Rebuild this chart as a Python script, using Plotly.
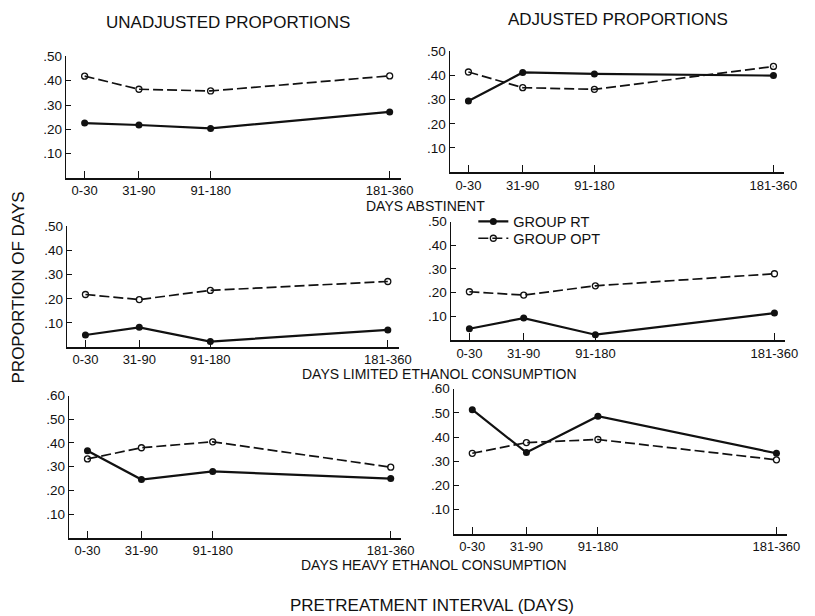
import plotly.graph_objects as go

# ---- data ----
interval_labels = ["0-30", "31-90", "91-180", "181-360"]
interval_ticks = [0.0, 0.178, 0.413, 1.0]   # axis scale: category positions along the time axis

unadj_abstinent_rt = [0.226, 0.218, 0.204, 0.272]
unadj_abstinent_opt = [0.419, 0.365, 0.358, 0.420]
adj_abstinent_rt = [0.295, 0.413, 0.407, 0.400]
adj_abstinent_opt = [0.415, 0.350, 0.343, 0.438]

unadj_limited_rt = [0.050, 0.082, 0.023, 0.071]
unadj_limited_opt = [0.218, 0.197, 0.235, 0.272]
adj_limited_rt = [0.048, 0.093, 0.023, 0.114]
adj_limited_opt = [0.204, 0.190, 0.229, 0.280]

unadj_heavy_rt = [0.367, 0.246, 0.280, 0.250]
unadj_heavy_opt = [0.333, 0.380, 0.405, 0.298]
adj_heavy_rt = [0.513, 0.336, 0.486, 0.333]
adj_heavy_opt = [0.333, 0.377, 0.390, 0.306]

ytick_vals_50 = [0.1, 0.2, 0.3, 0.4, 0.5]
ytick_text_50 = [".10", ".20", ".30", ".40", ".50"]
ytick_vals_60 = [0.1, 0.2, 0.3, 0.4, 0.5, 0.6]
ytick_text_60 = [".10", ".20", ".30", ".40", ".50", ".60"]

W, H = 815, 616
INK = "#111111"
FONT = "Liberation Sans, Arial, sans-serif"

def px(x):
    return x / W

def py(y):
    return 1 - y / H

panels = [
    # (rt, opt, x-left px, x-right px, y-bottom px, y-top px, ymax)
    (unadj_abstinent_rt, unadj_abstinent_opt, 67, 407, 173, 50, 0.5),
    (adj_abstinent_rt, adj_abstinent_opt, 457, 797, 167, 45, 0.5),
    (unadj_limited_rt, unadj_limited_opt, 68, 405, 344, 222, 0.5),
    (adj_limited_rt, adj_limited_opt, 458, 798, 337, 217, 0.5),
    (unadj_heavy_rt, unadj_heavy_opt, 70, 408, 537, 393, 0.6),
    (adj_heavy_rt, adj_heavy_opt, 461, 800, 533, 386, 0.6),
]

fig = go.Figure()
layout = {}
for i, (rt, opt, xl, xr, yb, yt, ymax) in enumerate(panels):
    n = "" if i == 0 else str(i + 1)
    xa, ya = "x" + n, "y" + n
    fig.add_trace(go.Scatter(
        x=interval_ticks, y=opt, xaxis=xa, yaxis=ya, mode="lines+markers",
        name="GROUP OPT", showlegend=(i == 0), legend="legend2",
        line=dict(color=INK, width=1.7, dash="10px,4px"),
        marker=dict(symbol="circle-open", size=6, color=INK, line=dict(width=1.3)),
    ))
    fig.add_trace(go.Scatter(
        x=interval_ticks, y=rt, xaxis=xa, yaxis=ya, mode="lines+markers",
        name="GROUP RT", showlegend=(i == 0), legend="legend",
        line=dict(color=INK, width=2.2),
        marker=dict(symbol="circle", size=7, color=INK),
    ))
    yv = ytick_vals_60 if ymax > 0.55 else ytick_vals_50
    yt_ = ytick_text_60 if ymax > 0.55 else ytick_text_50
    layout["xaxis" + n] = dict(
        domain=[px(xl), px(xr)], anchor=ya, range=[-19 / 310, 1 + 11 / 310],
        tickvals=interval_ticks, ticktext=interval_labels,
        ticks="inside", ticklen=7, tickwidth=1.3, tickcolor=INK,
        showline=True, linecolor=INK, linewidth=1.6, showgrid=False, zeroline=False,
        tickfont=dict(family=FONT, size=13, color=INK),
    )
    layout["yaxis" + n] = dict(
        domain=[py(yb), py(yt)], anchor=xa, range=[0, ymax],
        tickvals=yv, ticktext=yt_,
        ticks="inside", ticklen=5, tickwidth=1.3, tickcolor=INK,
        showline=True, linecolor=INK, linewidth=1.4, showgrid=False, zeroline=False,
        tickfont=dict(family=FONT, size=13.5, color=INK),
    )

annotations = [
    dict(text="UNADJUSTED PROPORTIONS", x=px(232), y=py(16), size=17),
    dict(text="ADJUSTED PROPORTIONS", x=px(628), y=py(13), size=17),
    dict(text="DAYS ABSTINENT", x=px(432), y=py(201), size=14),
    dict(text="DAYS LIMITED ETHANOL CONSUMPTION", x=px(447), y=py(371), size=14),
    dict(text="DAYS HEAVY ETHANOL CONSUMPTION", x=px(441), y=py(564), size=14),
    dict(text="PRETREATMENT INTERVAL (DAYS)", x=px(439), y=py(605), size=17),
]
ann = []
for a in annotations:
    ann.append(dict(text=a["text"], x=a["x"], y=a["y"], xref="paper", yref="paper",
                    xanchor="center", yanchor="middle", showarrow=False,
                    font=dict(family=FONT, size=a["size"], color=INK)))
ann.append(dict(text="PROPORTION OF DAYS", x=px(19), y=py(284), xref="paper", yref="paper",
                xanchor="center", yanchor="middle", showarrow=False, textangle=-90,
                font=dict(family=FONT, size=17, color=INK)))

legend_style = dict(xanchor="left", yanchor="middle", bgcolor="rgba(0,0,0,0)",
                    font=dict(family=FONT, size=14.5, color=INK), itemwidth=30)

fig.update_layout(
    width=W, height=H, margin=dict(l=0, r=0, t=0, b=0),
    paper_bgcolor="white", plot_bgcolor="white",
    annotations=ann,
    legend=dict(x=px(481), y=py(217), **legend_style),
    legend2=dict(x=px(481), y=py(234), **legend_style),
    **layout,
)

fig.write_html("out.html", config={"displayModeBar": False},
               post_script="document.body.style.margin='0';")
